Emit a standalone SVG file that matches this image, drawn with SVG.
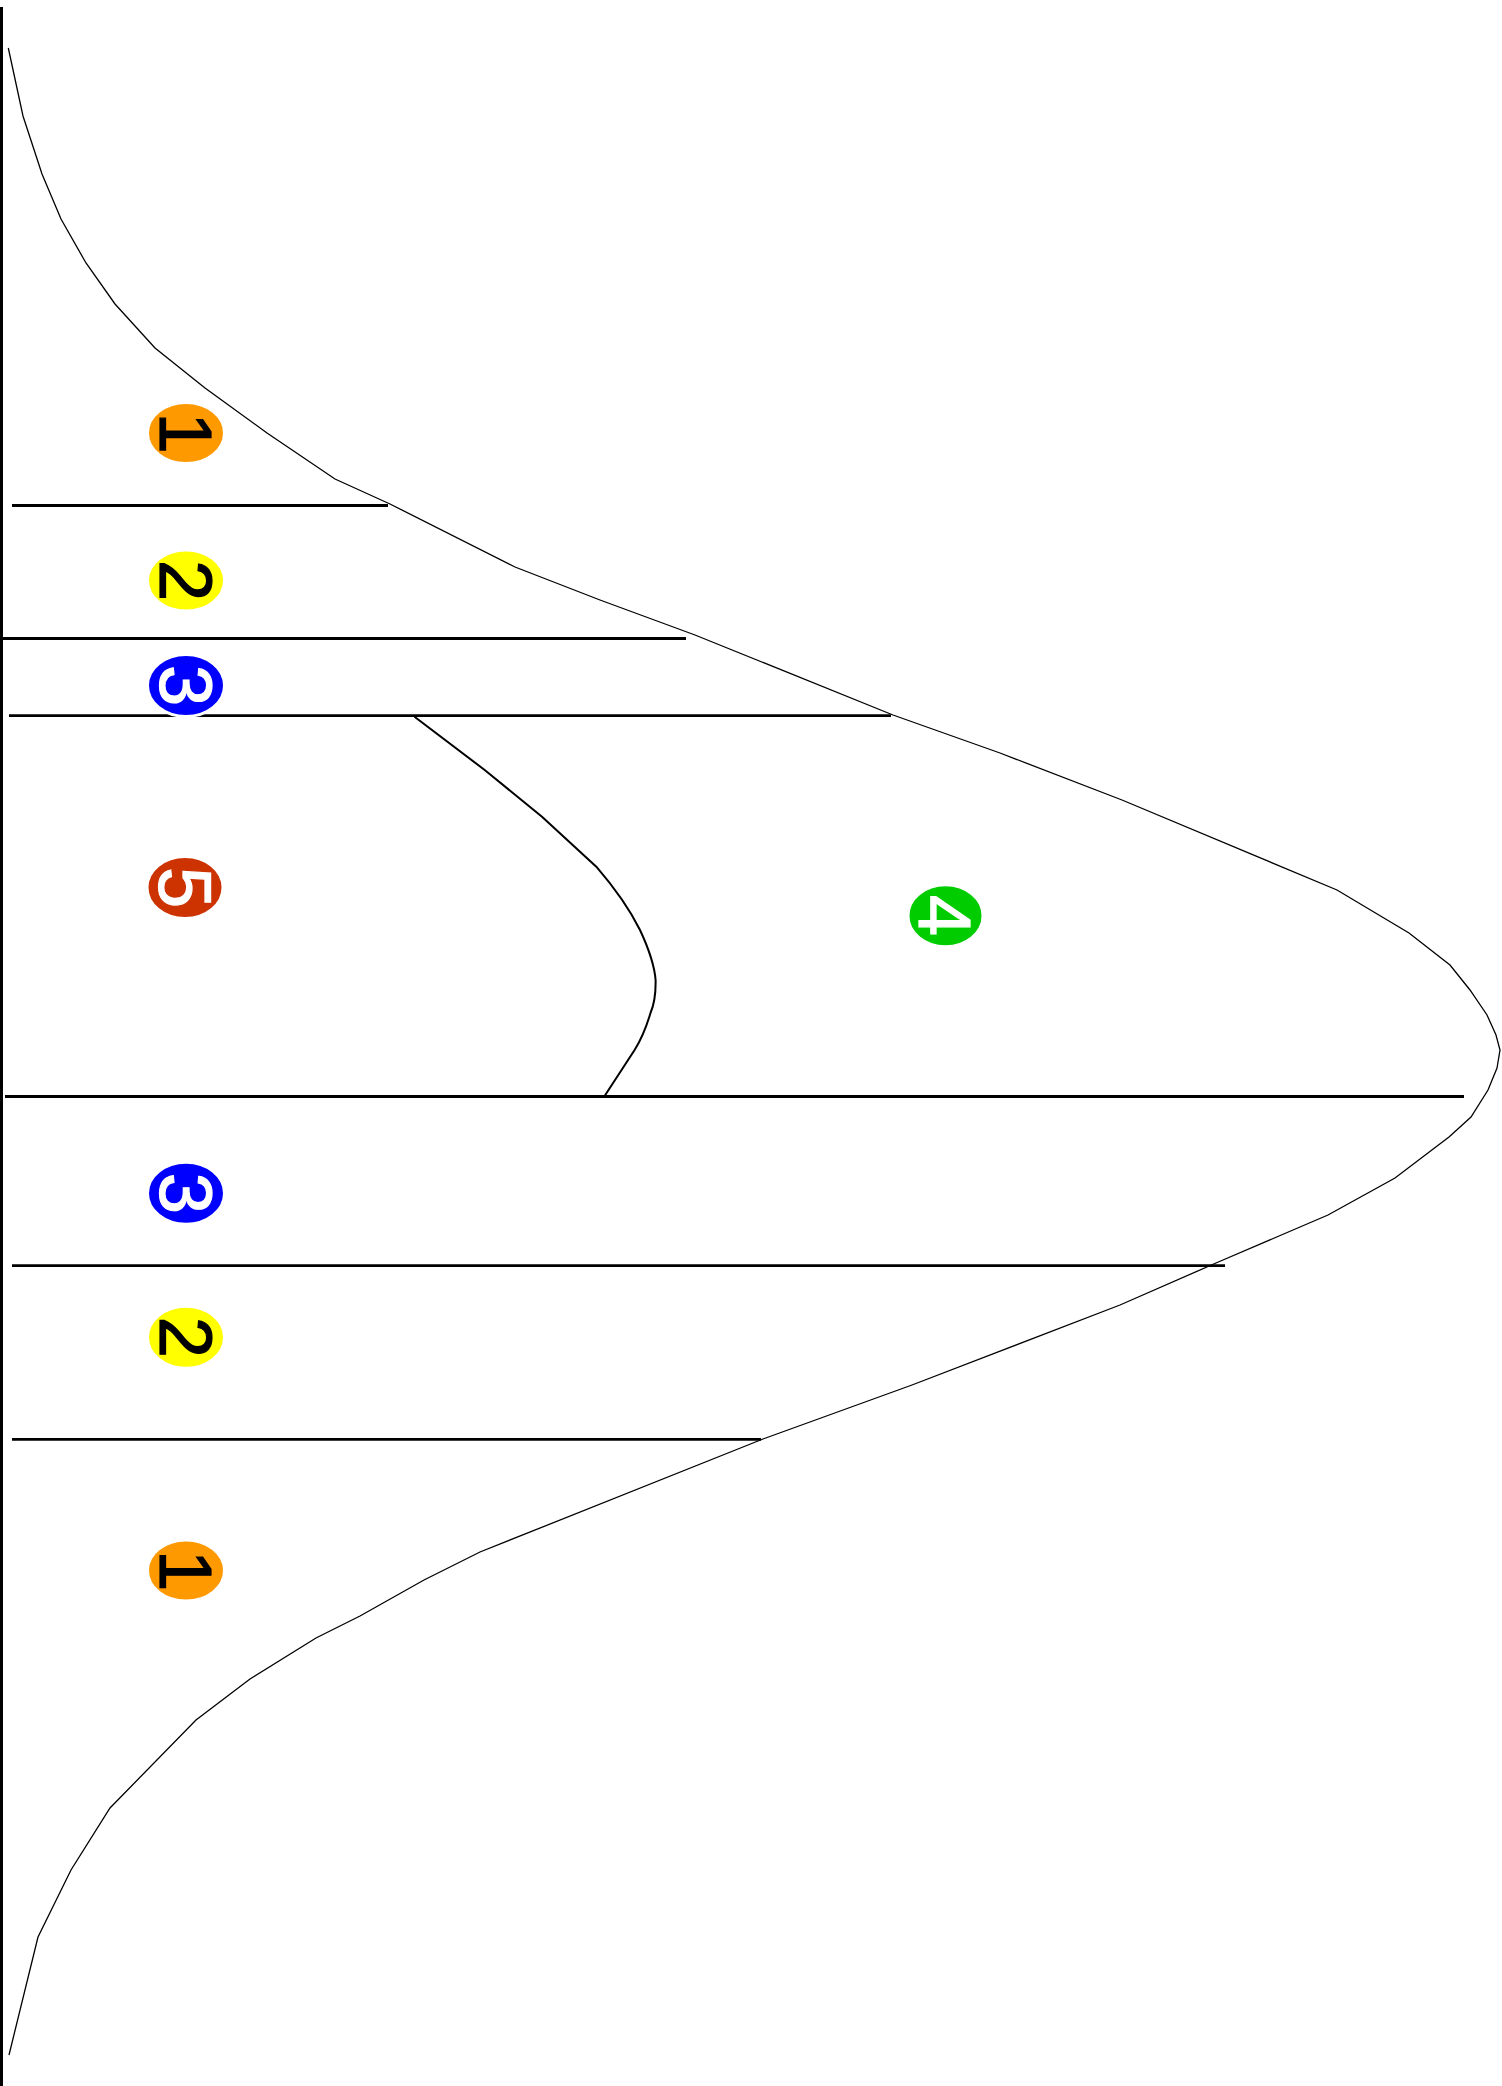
<svg xmlns="http://www.w3.org/2000/svg" width="1502" height="2086" viewBox="0 0 1502 2086">
<style>
.bg{fill:#ffffff}
.axis{stroke:#000;stroke-width:3;fill:none}
.bell{stroke:#000;stroke-width:1.3;fill:none;stroke-linejoin:miter}
.div{stroke:#000;stroke-width:2.8;fill:none}
.inner{stroke:#000;stroke-width:2;fill:none}
.badge{stroke:#fff;stroke-width:3}
.num{font-family:"Liberation Sans",Arial,sans-serif;font-size:74px;text-anchor:middle;stroke-width:1.2}
.orange{fill:#FF9900}.yellow{fill:#FFFF00}.blue{fill:#0000FF}.red{fill:#CC3300}.green{fill:#00CC00}
.dark{fill:#000;stroke:#000}.light{fill:#fff;stroke:#fff}
</style>
<rect class="bg" x="0" y="0" width="1502" height="2086"/>
<line class="axis" x1="1.5" y1="7" x2="1.5" y2="2086"/>
<polyline class="bell" points="8.3,48 23,116 42,174 61,219 86,263 115,304 155,348 205,388 267,433 335,479 390,504 515,567 600,600 695,635 893,715 1000,753 1122,800 1337,890 1409,933 1450,965 1470,990 1487,1015 1496,1035 1500,1050 1497,1068 1488,1090 1471,1117 1449,1137 1395,1178 1328,1215 1300,1227 1216,1263 1120,1305 912,1385 763,1439 480,1552 424,1580 360,1616 316,1638 250,1679 196,1720 110,1808 71,1870 38,1937 9,2055"/>
<g id="connectors">
<line class="div" x1="12" y1="505.5" x2="388" y2="505.5"/>
<line class="div" x1="0" y1="638.5" x2="686" y2="638.5"/>
<line class="div" x1="9" y1="715.7" x2="891" y2="715.7"/>
<line class="div" x1="5" y1="1096.5" x2="1464" y2="1096.5"/>
<line class="div" x1="12" y1="1265.7" x2="1225" y2="1265.7"/>
<line class="div" x1="12" y1="1439.3" x2="761" y2="1439.3"/>
<path class="inner" d="M414.5,716.7 L484.7,770 L542,816.7 L596.3,866.7 Q625,900 640,930 Q654,960 655.6,980 Q656,1000 650.5,1013 Q644,1035 634.6,1050 L604.6,1096"/>
</g>
<g id="n1a"><ellipse class="badge orange" cx="186" cy="433" rx="38.5" ry="30.5"/><text class="num dark" transform="translate(186,433) rotate(90)" x="0" y="26.5">1</text></g>
<g id="n2a"><ellipse class="badge yellow" cx="186" cy="580.5" rx="38.5" ry="30.5"/><text class="num dark" transform="translate(186,580.5) rotate(90)" x="0" y="26.5">2</text></g>
<g id="n3a"><ellipse class="badge blue" cx="186" cy="685.5" rx="38.5" ry="31"/><text class="num light" transform="translate(186,685.5) rotate(90)" x="0" y="26.5">3</text></g>
<g id="n5"><ellipse class="badge red" cx="185" cy="887.5" rx="38" ry="31"/><text class="num light" transform="translate(185,887.5) rotate(90)" x="0" y="26.5">5</text></g>
<g id="n4"><ellipse class="badge green" cx="945.5" cy="915.7" rx="37.5" ry="31"/><text class="num light" transform="translate(945.5,915.7) rotate(90)" x="0" y="26.5">4</text></g>
<g id="n3b"><ellipse class="badge blue" cx="186" cy="1193.3" rx="38.5" ry="31"/><text class="num light" transform="translate(186,1193.3) rotate(90)" x="0" y="26.5">3</text></g>
<g id="n2b"><ellipse class="badge yellow" cx="186" cy="1337.3" rx="38.5" ry="31"/><text class="num dark" transform="translate(186,1337.3) rotate(90)" x="0" y="26.5">2</text></g>
<g id="n1b"><ellipse class="badge orange" cx="186" cy="1570.5" rx="38.5" ry="30.5"/><text class="num dark" transform="translate(186,1570.5) rotate(90)" x="0" y="26.5">1</text></g>
</svg>
